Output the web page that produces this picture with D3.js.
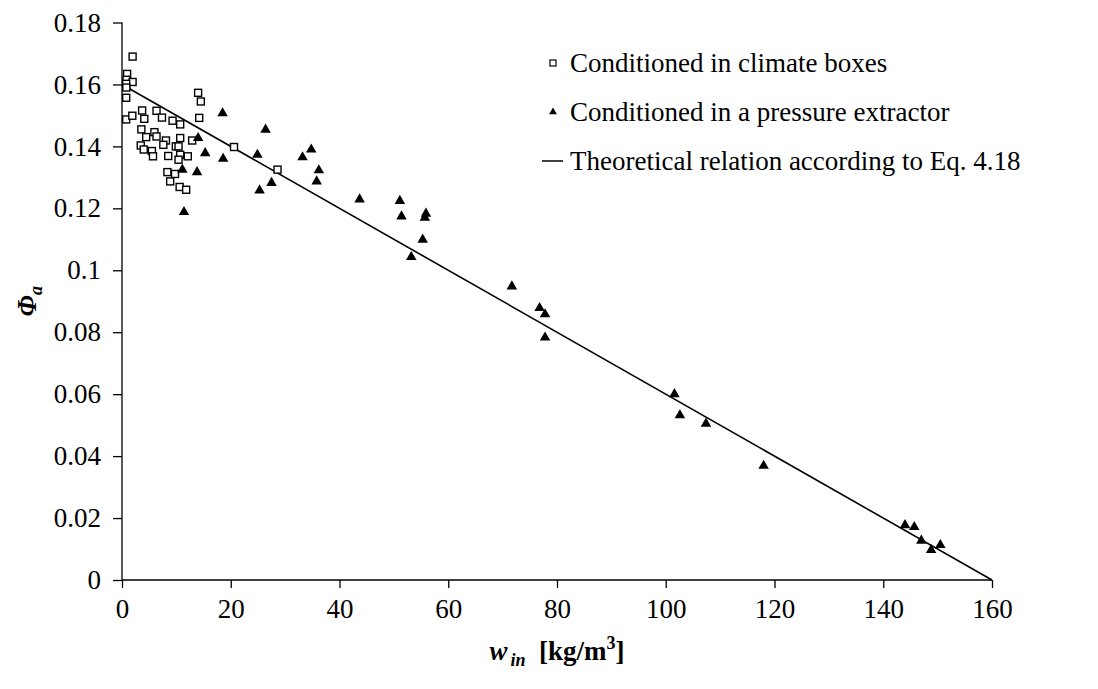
<!DOCTYPE html>
<html><head><meta charset="utf-8">
<script src="https://cdn.jsdelivr.net/npm/d3@7"></script>
<style>body{margin:0;background:#fff}svg{display:block}text{font-family:"Liberation Serif","Times New Roman",serif;fill:#000}</style>
</head><body><svg id="c" width="1098" height="689"></svg>
<script>
const xTicks=[0,20,40,60,80,100,120,140,160];
const yTicks=[0,0.02,0.04,0.06,0.08,0.1,0.12,0.14,0.16,0.18];
const boxesX=[1.95,0.94,0.83,1.95,0.77,0.8,0.77,0.77,1.9,3.7,4.1,6.35,7.35,9.3,10.7,3.56,4.45,5.96,6.35,8.08,3.45,4.0,5.5,5.7,7.6,8.5,9.9,10.4,10.7,10.7,12.1,12.9,14.0,14.5,14.2,20.6,28.6,8.35,8.86,9.75,10.6,11.8,10.4];
const boxesY=[0.169,0.1634,0.1615,0.1608,0.1602,0.159,0.1557,0.1487,0.1499,0.1516,0.1489,0.1515,0.1493,0.1483,0.1471,0.1455,0.143,0.1446,0.1432,0.1419,0.1403,0.139,0.1385,0.1368,0.1405,0.1369,0.14,0.14,0.1427,0.1373,0.1368,0.1419,0.1573,0.1545,0.1492,0.1398,0.1325,0.1317,0.1287,0.1311,0.1269,0.126,0.1357];
const extrX=[18.5,26.4,14.0,15.3,18.6,24.9,11.1,13.8,25.3,27.5,11.4,34.8,33.2,36.2,35.8,43.7,51.1,51.4,55.9,55.7,55.3,53.2,71.7,76.8,77.8,77.8,101.6,102.6,107.4,118.0,144.0,145.7,147.0,148.8,150.5];
const extrY=[0.1507,0.1454,0.1427,0.1378,0.136,0.1373,0.1325,0.1317,0.1258,0.1282,0.1188,0.139,0.1365,0.1323,0.1287,0.1229,0.1224,0.1174,0.1183,0.117,0.1099,0.1043,0.0948,0.0878,0.0858,0.0783,0.06,0.0532,0.0505,0.0369,0.0177,0.0171,0.0127,0.0097,0.0113];
const theoryX=[0,160];
const theoryY=[0.16,0];
const legendLabels=["Conditioned in climate boxes","Conditioned in a pressure extractor","Theoretical relation according to Eq. 4.18"];

const svg=d3.select("#c");
const L=122,R=992,T=22.5,B=580;
const x=d3.scaleLinear().domain([0,160]).range([L,R]);
const y=d3.scaleLinear().domain([0,0.18]).range([B,T]);
const fs=27;

const gx=svg.append("g").attr("transform",`translate(0,${B})`)
  .call(d3.axisBottom(x).tickValues(xTicks).tickSize(8).tickPadding(11).tickFormat(d3.format("d")));
const gy=svg.append("g").attr("transform",`translate(${L},0)`)
  .call(d3.axisLeft(y).tickValues(yTicks).tickSize(9).tickPadding(12).tickFormat(d=>d===0?"0":String(+d.toFixed(2))));
[gx,gy].forEach(g=>{g.selectAll("path,line").attr("stroke","#000").attr("stroke-width",1.3);
  g.selectAll("text").attr("font-size",fs).attr("font-family","Liberation Serif");});
gx.select(".domain").attr("d",`M${L},0H${R}`);
gy.select(".domain").attr("d",`M0,${B}V${T}`);

svg.append("path").datum(theoryX.map((v,i)=>[v,theoryY[i]]))
  .attr("d",d3.line().x(d=>x(d[0])).y(d=>y(d[1]))).attr("fill","none").attr("stroke","#000").attr("stroke-width",1.6);

const sq=7;
svg.append("g").selectAll("rect").data(boxesX.map((v,i)=>[v,boxesY[i]])).join("rect")
  .attr("x",d=>x(d[0])-sq/2).attr("y",d=>y(d[1])-sq/2).attr("width",sq).attr("height",sq)
  .attr("fill","#fff").attr("stroke","#000").attr("stroke-width",1.4);
const tri=d3.symbol().type(d3.symbolTriangle).size(48);
svg.append("g").selectAll("path").data(extrX.map((v,i)=>[v,extrY[i]])).join("path")
  .attr("d",tri).attr("transform",d=>`translate(${x(d[0])},${y(d[1])})`).attr("fill","#000");

// legend
const lg=svg.append("g");
const ly=[63,112,161];
lg.append("rect").attr("x",550).attr("y",ly[0]-3).attr("width",6).attr("height",6).attr("fill","#fff").attr("stroke","#000").attr("stroke-width",1.2);
lg.append("path").attr("d",d3.symbol().type(d3.symbolTriangle).size(26)).attr("transform",`translate(553,${ly[1]})`).attr("fill","#000");
lg.append("line").attr("x1",542).attr("x2",563).attr("y1",ly[2]).attr("y2",ly[2]).attr("stroke","#000").attr("stroke-width",1.5);
legendLabels.forEach((t,i)=>lg.append("text").attr("x",570).attr("y",ly[i]).attr("dy","0.35em").attr("font-size",fs).text(t));

// axis titles
const xt=svg.append("text").attr("x",(L+R)/2).attr("y",660).attr("text-anchor","middle").attr("font-size",fs).attr("font-weight","bold");
xt.append("tspan").attr("font-style","italic").text("w");
xt.append("tspan").attr("font-style","italic").attr("font-size",18).attr("dy",6).attr("dx",3).text("in");
xt.append("tspan").attr("dy",-6).text("\u00a0 [kg/m");
xt.append("tspan").attr("font-size",18).attr("dy",-11).text("3");
xt.append("tspan").attr("dy",11).text("]");
const yt=svg.append("text").attr("transform",`translate(36,${(T+B)/2}) rotate(-90)`).attr("text-anchor","middle").attr("font-size",fs).attr("font-weight","bold").attr("font-style","italic");
yt.append("tspan").text("\u03a6");
yt.append("tspan").attr("font-size",18).attr("dy",6).text("a");
</script></body></html>
